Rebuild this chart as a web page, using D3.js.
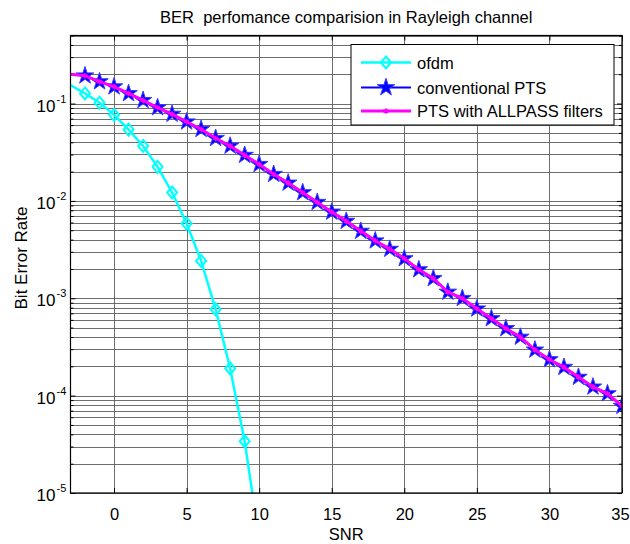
<!DOCTYPE html>
<html lang="en">
<head>
<meta charset="UTF-8" />
<script src="https://d3js.org/d3.v7.min.js"></script>
<title>BER perfomance</title>
<style>
  body { margin: 0; background: #fff; }
  text { font-family: "Liberation Sans", Arial, sans-serif; fill: #000; }
</style>
</head>
<body>
<script>
  // values
  const snrOfdm = [-3, -2, -1, 0, 1, 2, 3, 4, 5, 6, 7, 8, 9, 10]
  const berOfdm = [0.155, 0.127, 0.102, 0.0766, 0.054, 0.0367, 0.0224, 0.0122, 0.00585, 0.00242, 7.7e-4, 1.9e-4, 3.4e-5, 3.4e-6]

  const snrPts = [-3, -2, -1, 0, 1, 2, 3, 4, 5, 6, 7, 8, 9, 10, 11, 12, 13, 14, 15, 16, 17, 18, 19,
    20, 21, 22, 23, 24, 25, 26, 27, 28, 29, 30, 31, 32, 33, 34, 35]
  const berPts = [0.2, 0.193, 0.168, 0.149, 0.127, 0.108, 0.091, 0.078, 0.065, 0.0545, 0.044, 0.0367, 0.0295,
    0.0238, 0.0188, 0.0153, 0.0122, 0.0097, 0.0077, 0.0062, 0.0049, 0.0039, 0.0032, 0.00256, 0.00197, 0.0016,
    0.00116, 0.001, 7.8e-4, 6.2e-4, 4.9e-4, 4.0e-4, 2.95e-4, 2.35e-4, 1.96e-4, 1.55e-4, 1.23e-4, 1.05e-4, 7.8e-5]
  const berAllpass = [0.2, 0.193, 0.168, 0.149, 0.127, 0.108, 0.091, 0.078, 0.065, 0.0545, 0.044, 0.0367, 0.0295,
    0.0238, 0.0188, 0.0153, 0.0122, 0.0097, 0.0077, 0.0062, 0.0049, 0.0039, 0.0032, 0.00256, 0.00197, 0.0016,
    0.00116, 0.001, 7.8e-4, 6.2e-4, 4.9e-4, 4.0e-4, 2.95e-4, 2.35e-4, 1.96e-4, 1.55e-4, 1.23e-4, 1.05e-4, 7.8e-5]

  const xTicks = [0, 5, 10, 15, 20, 25, 30, 35]
  const yTicks = [1e-5, 1e-4, 1e-3, 1e-2, 1e-1]
  const yTickExp = ['-5', '-4', '-3', '-2', '-1']
  const seriesNames = ['ofdm', 'conventional PTS', 'PTS with ALLPASS filters']

  const width = 630, height = 544

  const svg = d3.select('body').append('svg').attr('width', width).attr('height', height)

  const x = d3.scaleLinear().domain([-3, 35]).range([70.5, 622])
  const y = d3.scaleLog().domain([1e-5, 0.5]).range([493, 35.5])
  const [x0, x1] = x.range()
  const [y0, y1] = y.range()

  // minor log ticks 2..9 in each decade
  const yMinor = []
  yTicks.forEach(d => {
    for (let m = 2; m <= 9; m++) if (m * d <= 0.5) yMinor.push(m * d)
  })

  // grid
  const grid = svg.append('g').attr('stroke', '#5e5e5e').attr('stroke-width', 0.9)
  grid.selectAll('.gx').data(xTicks).enter().append('line')
    .attr('x1', d => Math.round(x(d)) + 0.5).attr('x2', d => Math.round(x(d)) + 0.5)
    .attr('y1', y1).attr('y2', y0)
  grid.selectAll('.gy').data(yTicks.concat(yMinor)).enter().append('line')
    .attr('x1', x0).attr('x2', x1)
    .attr('y1', d => Math.round(y(d)) + 0.5).attr('y2', d => Math.round(y(d)) + 0.5)

  // axes ticks (inward like matlab)
  const axisStyle = g => {
    g.select('.domain').remove()
    g.selectAll('.tick line').attr('stroke', '#000')
    g.selectAll('.tick text').attr('font-size', 16.5).attr('font-family', '"Liberation Sans", Arial, sans-serif')
  }
  const xb = svg.append('g').attr('transform', `translate(0,${y0})`)
    .call(d3.axisBottom(x).tickValues(xTicks).tickSize(-5).tickPadding(15)).call(axisStyle)
  xb.selectAll('.tick text').filter(d => d === 35).attr('dx', -2)
  svg.append('g').attr('transform', `translate(0,${y1})`)
    .call(d3.axisTop(x).tickValues(xTicks).tickSize(-5).tickFormat('')).call(axisStyle)
  svg.append('g').attr('transform', `translate(${x0},0)`)
    .call(d3.axisLeft(y).tickValues(yTicks).tickSize(-5).tickFormat('')).call(axisStyle)
  svg.append('g').attr('transform', `translate(${x0},0)`)
    .call(d3.axisLeft(y).tickValues(yMinor).tickSize(-3).tickFormat('')).call(axisStyle)
  svg.append('g').attr('transform', `translate(${x1},0)`)
    .call(d3.axisRight(y).tickValues(yTicks).tickSize(-5).tickFormat('')).call(axisStyle)
  svg.append('g').attr('transform', `translate(${x1},0)`)
    .call(d3.axisRight(y).tickValues(yMinor).tickSize(-3).tickFormat('')).call(axisStyle)

  // y tick labels 10^n
  const ylab = svg.append('g').selectAll('g').data(yTicks).enter().append('g')
  ylab.append('text').attr('x', 55.5).attr('y', d => y(d) + 8)
    .attr('text-anchor', 'end').attr('font-size', 17).text('10')
  ylab.append('text').attr('x', 56.5).attr('y', d => y(d) - 1)
    .attr('font-size', 11).text((d, i) => yTickExp[i])

  // clip
  svg.append('clipPath').attr('id', 'clip').append('rect')
    .attr('x', x0).attr('y', y1).attr('width', x1 - x0).attr('height', y0 - y1)
  const plot = svg.append('g').attr('clip-path', 'url(#clip)')

  const diamond = {
    draw(ctx, size) {
      const w = Math.sqrt(size) / 2, h = w * 1.2
      ctx.moveTo(0, -h); ctx.lineTo(w, 0); ctx.lineTo(0, h); ctx.lineTo(-w, 0); ctx.closePath()
    }
  }

  const line = d3.line().x(d => x(d[0])).y(d => y(d[1]))
  const ofdm = snrOfdm.map((s, i) => [s, berOfdm[i]])
  const pts = snrPts.map((s, i) => [s, berPts[i]])
  const allpass = snrPts.map((s, i) => [s, berAllpass[i]])

  // ofdm
  plot.append('path').datum(ofdm).attr('d', line)
    .attr('fill', 'none').attr('stroke', '#00ffff').attr('stroke-width', 2.5)
  plot.selectAll('.dm').data(ofdm.filter(d => d[0] > -3)).enter().append('path')
    .attr('transform', d => `translate(${x(d[0])},${y(d[1])})`)
    .attr('d', d3.symbol(diamond, 100))
    .attr('fill', 'none').attr('stroke', '#00ffff').attr('stroke-width', 2)

  // conventional PTS
  plot.append('path').datum(pts).attr('d', line)
    .attr('fill', 'none').attr('stroke', '#0000ff').attr('stroke-width', 2)
  plot.selectAll('.st').data(pts.filter(d => d[0] > -3)).enter().append('path')
    .attr('transform', d => `translate(${x(d[0])},${y(d[1])})`)
    .attr('d', d3.symbol(d3.symbolStar, 95))
    .attr('fill', '#0000ff').attr('stroke', '#3a3aff').attr('stroke-width', 1)

  // PTS with allpass filters
  plot.append('path').datum(allpass).attr('d', line)
    .attr('fill', 'none').attr('stroke', '#ff00ff').attr('stroke-width', 3)
  plot.selectAll('.ap').data(allpass.filter(d => d[0] > -3)).enter().append('path')
    .attr('transform', d => `translate(${x(d[0])},${y(d[1])})`)
    .attr('d', d3.symbol(d3.symbolAsterisk, 22))
    .attr('fill', 'none').attr('stroke', '#ff00ff').attr('stroke-width', 1.5)

  // frame
  svg.append('rect').attr('x', x0).attr('y', y1).attr('width', x1 - x0).attr('height', y0 - y1)
    .attr('fill', 'none').attr('stroke', '#000').attr('stroke-width', 1.2)

  // titles
  svg.append('text').attr('x', (x0 + x1) / 2).attr('y', 23).attr('text-anchor', 'middle')
    .attr('font-size', 16.5).style('white-space', 'pre')
    .text('BER  perfomance comparision in Rayleigh channel')
  svg.append('text').attr('x', (x0 + x1) / 2).attr('y', 540).attr('text-anchor', 'middle')
    .attr('font-size', 16.5).text('SNR')
  svg.append('text').attr('transform', 'translate(26.5,258) rotate(-90)').attr('text-anchor', 'middle')
    .attr('font-size', 17).text('Bit Error Rate')

  // legend
  const lg = svg.append('g').attr('transform', 'translate(351,44.5)')
  lg.append('rect').attr('width', 263).attr('height', 80.5)
    .attr('fill', '#fff').attr('stroke', '#000').attr('stroke-width', 1)
  const rowY = [18, 43, 66.5]
  const lgColors = ['#00ffff', '#0000ff', '#ff00ff']
  const lgWidths = [2.5, 2, 3]
  const rows = lg.selectAll('.row').data(seriesNames).enter().append('g')
    .attr('transform', (d, i) => `translate(0,${rowY[i]})`)
  rows.append('line').attr('x1', 10).attr('x2', 60)
    .attr('stroke', (d, i) => lgColors[i]).attr('stroke-width', (d, i) => lgWidths[i])
  rows.append('path').attr('transform', 'translate(35,0)')
    .attr('d', (d, i) => i === 0 ? d3.symbol(diamond, 100)() : i === 1 ? d3.symbol(d3.symbolStar, 95)() : d3.symbol(d3.symbolAsterisk, 22)())
    .attr('fill', (d, i) => i === 1 ? '#0000ff' : 'none')
    .attr('stroke', (d, i) => i === 1 ? '#3a3aff' : lgColors[i])
    .attr('stroke-width', (d, i) => i === 1 ? 1 : i === 0 ? 2 : 1.5)
  rows.append('text').attr('x', 66).attr('y', 6).attr('font-size', 16.5).text(d => d)
</script>
</body>
</html>
